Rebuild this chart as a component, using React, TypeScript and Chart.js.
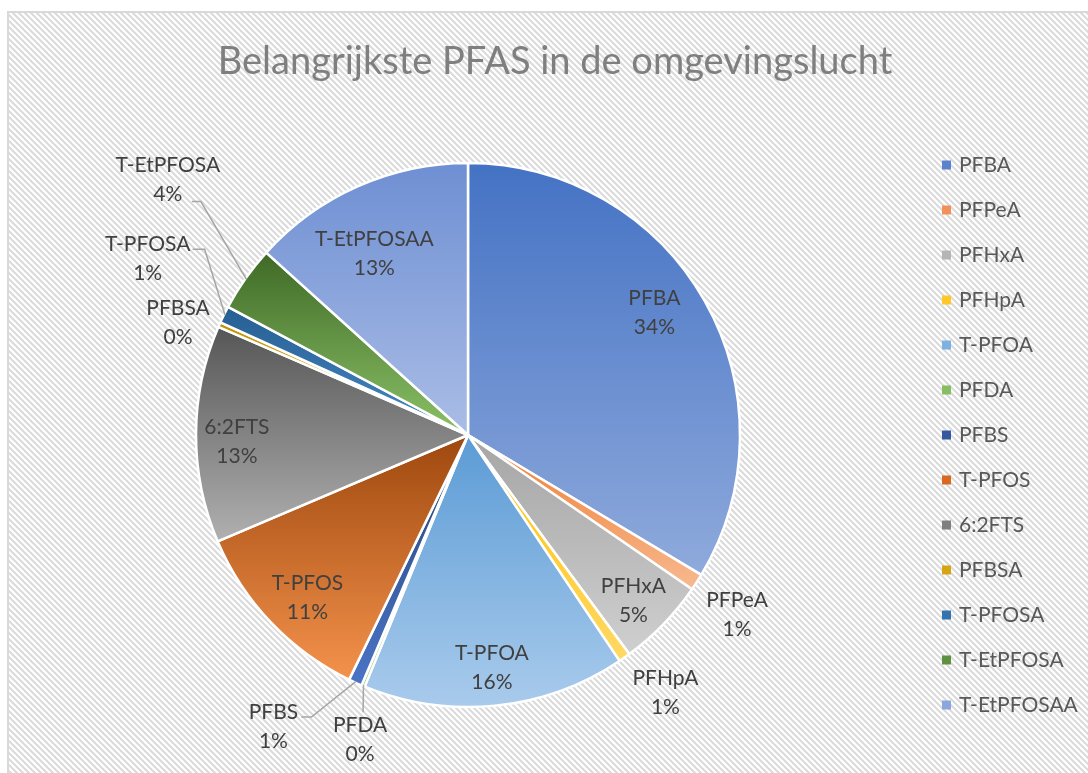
import { useEffect, useRef } from "react";
import { Chart, registerables } from "chart.js";

Chart.register(...registerables);

const TITLE = "Belangrijkste PFAS in de omgevingslucht";

const CATEGORIES = [
  "PFBA",
  "PFPeA",
  "PFHxA",
  "PFHpA",
  "T-PFOA",
  "PFDA",
  "PFBS",
  "T-PFOS",
  "6:2FTS",
  "PFBSA",
  "T-PFOSA",
  "T-EtPFOSA",
  "T-EtPFOSAA",
];

// share of each compound in %
const SHARES = [33.6, 1.0, 5.3, 0.7, 15.6, 0.2, 0.8, 11.4, 12.9, 0.3, 1.0, 3.9, 13.3];

// gradient colours per slice (top -> bottom)
const GRAD_TOP = [
  "#4472C4", "#ED7D31", "#A5A5A5", "#FFC000", "#5B9BD5", "#70AD47", "#264478",
  "#9E480E", "#565656", "#BF9000", "#255E91", "#3F6A26", "#6E8FD3",
];
const GRAD_BOTTOM = [
  "#8FAADC", "#F8B990", "#CFCFCF", "#FFD966", "#A9CBEC", "#A9D18E", "#4A74C6",
  "#F4924C", "#B0B0B0", "#FFD24A", "#4A8AC8", "#8BC167", "#AABDE6",
];
const LEGEND_COLORS = [
  "#5B83CC", "#F0915A", "#B5B5B5", "#FFC728", "#7DB1E0", "#86BE62", "#34589E",
  "#D86A22", "#7F7F7F", "#D6A514", "#3474AE", "#5E9140", "#8BA6DC",
];

// label placement: angle offset (deg) from slice middle, radius factor, optional leader
type Leader = { dx: number; dy: number; elbow: number };
const LABEL_PLACEMENT: { dAng: number; rf: number; leader?: Leader }[] = [
  { dAng: -3.8, rf: 0.82 },
  { dAng: 1.0, rf: 1.19 },
  { dAng: 0.9, rf: 0.86 },
  { dAng: -2.3, rf: 1.195 },
  { dAng: -0.1, rf: 0.86 },
  { dAng: -3.2, rf: 1.19, leader: { dx: 3, dy: -28, elbow: 0 } },
  { dAng: 9.2, rf: 1.29, leader: { dx: 28, dy: -10, elbow: 10 } },
  { dAng: -1.8, rf: 0.84 },
  { dAng: -1.9, rf: 0.85 },
  { dAng: -2.8, rf: 1.143 },
  { dAng: 2.6, rf: 1.345, leader: { dx: 45, dy: -9, elbow: 12 } },
  { dAng: 5.3, rf: 1.449, leader: { dx: 24, dy: 22, elbow: 9 } },
  { dAng: -3.4, rf: 0.75 },
];

const W = 1088;
const H = 773;
const FRAME_X = 8;
const FRAME_Y = 12;
const R = 272;
const FONT = "Lato, 'Open Sans', sans-serif";
const LABEL_LINE = 29;
const LEGEND_X = 942;
const LEGEND_STEP = 45;

const total = SHARES.reduce((a, b) => a + b, 0);

function sliceFill(c: any) {
  const chart = c.chart;
  const i = c.dataIndex;
  const area = chart.chartArea;
  if (!area || i == null || i < 0) return GRAD_TOP[i] || "#888";
  const cx = (area.left + area.right) / 2;
  const cy = (area.top + area.bottom) / 2;
  let a0 = -Math.PI / 2;
  for (let j = 0; j < i; j++) a0 += (SHARES[j] / total) * 2 * Math.PI;
  const a1 = a0 + (SHARES[i] / total) * 2 * Math.PI;
  const ys = [cy, cy + R * Math.sin(a0), cy + R * Math.sin(a1)];
  for (const k of [-Math.PI / 2, Math.PI / 2, (3 * Math.PI) / 2]) {
    if (k >= a0 && k <= a1) ys.push(cy + R * Math.sin(k));
  }
  const y0 = Math.min(...ys);
  const y1 = Math.max(...ys);
  const g = chart.ctx.createLinearGradient(0, y0, 0, y1 > y0 ? y1 : y0 + 1);
  g.addColorStop(0, GRAD_TOP[i]);
  g.addColorStop(1, GRAD_BOTTOM[i]);
  return g;
}

const backgroundPlugin = {
  id: "hatchBackground",
  beforeDraw(chart: any) {
    const { ctx, width, height } = chart;
    ctx.save();
    ctx.fillStyle = "#ffffff";
    ctx.fillRect(0, 0, width, height);
    const tile = document.createElement("canvas");
    tile.width = 6;
    tile.height = 6;
    const t = tile.getContext("2d")!;
    t.fillStyle = "#ffffff";
    t.fillRect(0, 0, 6, 6);
    t.strokeStyle = "#dadada";
    t.lineWidth = 2;
    for (const o of [-6, 0, 6]) {
      t.beginPath();
      t.moveTo(o - 1, -1);
      t.lineTo(o + 7, 7);
      t.stroke();
    }
    const pat = ctx.createPattern(tile, "repeat");
    ctx.fillStyle = pat;
    ctx.fillRect(FRAME_X, FRAME_Y, width - FRAME_X, height - FRAME_Y);
    ctx.strokeStyle = "#d9d9d9";
    ctx.lineWidth = 2;
    ctx.beginPath();
    ctx.moveTo(FRAME_X, height);
    ctx.lineTo(FRAME_X, FRAME_Y);
    ctx.lineTo(width, FRAME_Y);
    ctx.stroke();
    // title
    ctx.fillStyle = "#7f7f7f";
    ctx.font = `38px ${FONT}`;
    ctx.textAlign = "center";
    ctx.textBaseline = "middle";
    ctx.fillText(TITLE, 555, 62);
    ctx.restore();
  },
};

const labelPlugin = {
  id: "sliceLabels",
  afterDatasetsDraw(chart: any) {
    const { ctx } = chart;
    const meta = chart.getDatasetMeta(0);
    ctx.save();
    ctx.font = `21px ${FONT}`;
    ctx.textAlign = "center";
    ctx.textBaseline = "middle";
    meta.data.forEach((arc: any, i: number) => {
      const { x, y, startAngle, endAngle, outerRadius } = arc.getProps(
        ["x", "y", "startAngle", "endAngle", "outerRadius"],
        true
      );
      const mid = (startAngle + endAngle) / 2;
      const p = LABEL_PLACEMENT[i];
      const ang = mid + (p.dAng * Math.PI) / 180;
      const lx = x + Math.cos(ang) * outerRadius * p.rf;
      const ly = y + Math.sin(ang) * outerRadius * p.rf;
      if (p.leader) {
        const ax = x + Math.cos(mid) * (outerRadius - 1);
        const ay = y + Math.sin(mid) * (outerRadius - 1);
        const sx = lx + p.leader.dx;
        const sy = ly + p.leader.dy;
        ctx.strokeStyle = "#a6a6a6";
        ctx.lineWidth = 1.5;
        ctx.beginPath();
        ctx.moveTo(sx, sy);
        ctx.lineTo(sx + p.leader.elbow, sy);
        ctx.lineTo(ax, ay);
        ctx.stroke();
      }
      const pct = Math.round((SHARES[i] / total) * 100) + "%";
      ctx.fillStyle = "#404040";
      ctx.fillText(CATEGORIES[i], lx, ly - LABEL_LINE / 2);
      ctx.fillText(pct, lx, ly + LABEL_LINE / 2);
    });
    ctx.restore();
  },
  afterDraw(chart: any) {
    const { ctx, chartArea } = chart;
    const cy = (chartArea.top + chartArea.bottom) / 2;
    const n = CATEGORIES.length;
    const top = cy - ((n - 1) / 2) * LEGEND_STEP;
    ctx.save();
    ctx.font = `21px ${FONT}`;
    ctx.textAlign = "left";
    ctx.textBaseline = "middle";
    CATEGORIES.forEach((name, i) => {
      const yy = top + i * LEGEND_STEP;
      ctx.fillStyle = LEGEND_COLORS[i];
      ctx.fillRect(LEGEND_X, yy - 4.5, 9, 9);
      ctx.fillStyle = "#595959";
      ctx.fillText(name, LEGEND_X + 17, yy);
    });
    ctx.restore();
  },
};

export default function App() {
  const ref = useRef<HTMLCanvasElement | null>(null);
  useEffect(() => {
    if (!ref.current) return;
    const chart = new Chart(ref.current, {
      type: "pie",
      data: {
        labels: CATEGORIES,
        datasets: [
          {
            data: SHARES,
            backgroundColor: sliceFill as any,
            borderColor: "#ffffff",
            borderWidth: 2.5,
            radius: R,
          } as any,
        ],
      },
      options: {
        responsive: false,
        animation: false,
        events: [],
        layout: { padding: { left: 196, top: 163, right: W - 740, bottom: H - 707 } },
        plugins: {
          legend: { display: false },
          title: { display: false },
          tooltip: { enabled: false },
        },
      },
      plugins: [backgroundPlugin, labelPlugin],
    });
    return () => chart.destroy();
  }, []);
  return (
    <div style={{ position: "fixed", left: 0, top: 0, width: W, height: H }}>
      <canvas ref={ref} width={W} height={H} style={{ width: W, height: H, display: "block" }} />
    </div>
  );
}
